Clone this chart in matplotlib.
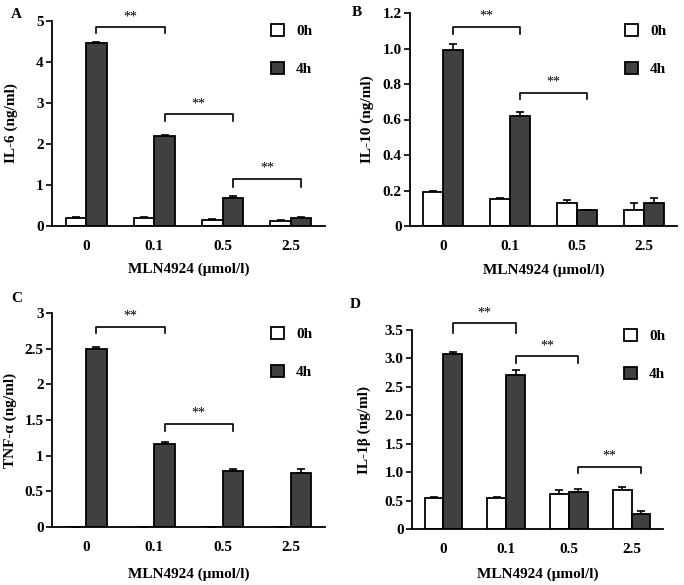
import matplotlib
matplotlib.use("Agg")
import matplotlib.pyplot as plt
import numpy as np

plt.rcParams['font.family'] = ['Liberation Serif', 'DejaVu Serif']
plt.rcParams['font.weight'] = 'bold'

doses = ['0', '0.1', '0.5', '2.5']
series_labels = ['0h', '4h']

il6_0h = [0.20, 0.20, 0.15, 0.12]
il6_0h_err = [0.03, 0.03, 0.02, 0.02]
il6_4h = [4.46, 2.19, 0.69, 0.19]
il6_4h_err = [0.03, 0.03, 0.04, 0.04]

il10_0h = [0.19, 0.15, 0.13, 0.09]
il10_0h_err = [0.005, 0.005, 0.015, 0.04]
il10_4h = [0.99, 0.62, 0.09, 0.13]
il10_4h_err = [0.035, 0.025, 0.0, 0.03]

tnf_0h = [0.0, 0.0, 0.0, 0.0]
tnf_0h_err = [0.0, 0.0, 0.0, 0.0]
tnf_4h = [2.50, 1.17, 0.79, 0.76]
tnf_4h_err = [0.02, 0.02, 0.02, 0.055]

il1b_0h = [0.55, 0.55, 0.61, 0.69]
il1b_0h_err = [0.01, 0.01, 0.08, 0.05]
il1b_4h = [3.08, 2.70, 0.65, 0.27]
il1b_4h_err = [0.03, 0.10, 0.05, 0.05]

# brackets: (start group, end group, bracket level, leg bottom)
brackets_A = [(0, 1, 4.85, 4.70), (1, 2, 2.72, 2.56), (2, 3, 1.15, 0.96)]
brackets_B = [(0, 1, 1.12, 1.083), (1, 2, 0.752, 0.715)]
brackets_C = [(0, 1, 2.81, 2.72), (1, 2, 1.44, 1.35)]
brackets_D = [(0, 1, 3.62, 3.44), (1, 2, 3.04, 2.92), (2, 3, 1.096, 0.98)]

W, H = 684, 585
fig = plt.figure(figsize=(W / 100, H / 100), dpi=100)

DARK = '#404040'
BW = 0.3


def make_panel(rect_px, v0, e0, v4, e4, ylim, yticks, yticklabels, ylabel,
               brackets, letter, letter_px, ylab_x, xlab_y, leg_px):
    l, t, r, b = rect_px
    ax = fig.add_axes([l / W, 1 - b / H, (r - l) / W, (b - t) / H])
    x = np.arange(len(doses))
    ax.bar(x - BW / 2, v0, BW, color='white', edgecolor='black', linewidth=1.3,
           label=series_labels[0], zorder=2)
    ax.bar(x + BW / 2, v4, BW, color=DARK, edgecolor='black', linewidth=1.3,
           label=series_labels[1], zorder=2)
    ax.errorbar(x - BW / 2, v0, yerr=[np.zeros(len(v0)), e0], fmt='none',
                ecolor='black', elinewidth=1.2, capsize=3, capthick=1.2, zorder=1)
    ax.errorbar(x + BW / 2, v4, yerr=[np.zeros(len(v4)), e4], fmt='none',
                ecolor='black', elinewidth=1.2, capsize=3, capthick=1.2, zorder=1)
    ax.set_xlim(-0.5, len(doses) - 0.5)
    ax.set_ylim(*ylim)
    ax.set_yticks(yticks)
    ax.set_yticklabels(yticklabels, fontsize=11, fontweight='bold')
    ax.set_xticks(x)
    ax.set_xticklabels(doses, fontsize=11, fontweight='bold')
    ax.tick_params(axis='x', length=0, pad=10)
    ax.tick_params(axis='y', length=4, width=1.2, pad=2, direction='out')
    for s in ['top', 'right']:
        ax.spines[s].set_visible(False)
    for s in ['left', 'bottom']:
        ax.spines[s].set_linewidth(1.3)
    ax.set_ylabel(ylabel, fontsize=11, fontweight='bold')
    ax.yaxis.set_label_coords(ylab_x, 0.5)
    ax.set_xlabel('MLN4924 (μmol/l)', fontsize=11, fontweight='bold')
    ax.xaxis.set_label_coords(0.5, xlab_y)
    for g0, g1, yb, yl in brackets:
        xs = [g0 + BW / 2, g0 + BW / 2, g1 + BW / 2, g1 + BW / 2]
        ys = [yl, yb, yb, yl]
        ax.plot(xs, ys, color='black', lw=1.2, clip_on=False, zorder=3)
        ax.text((xs[0] + xs[2]) / 2, yb + (ylim[1] - ylim[0]) * 0.02, '**',
                ha='center', va='bottom', fontsize=10, fontweight='normal',
                clip_on=False)
    lx, ly = leg_px
    ax.legend(loc='upper left',
              bbox_to_anchor=((lx - l) / (r - l), (b - ly) / (b - t)),
              frameon=False, handlelength=0.85, handleheight=0.85,
              labelspacing=1.55, borderpad=0, borderaxespad=0, handletextpad=0.8,
              prop={'weight': 'bold', 'size': 11})
    fig.text(letter_px[0] / W, 1 - letter_px[1] / H, letter, fontsize=11,
             fontweight='bold', ha='left', va='center')
    return ax


make_panel((52, 21, 325, 226), il6_0h, il6_0h_err, il6_4h, il6_4h_err,
           (0, 5), [0, 1, 2, 3, 4, 5], ['0', '1', '2', '3', '4', '5'],
           'IL-6 (ng/ml)', brackets_A, 'A', (11, 14), -0.125, -0.18, (271, 24))

make_panel((410, 13, 677, 226), il10_0h, il10_0h_err, il10_4h, il10_4h_err,
           (0, 1.2), [0, 0.2, 0.4, 0.6, 0.8, 1.0, 1.2],
           ['0', '0.2', '0.4', '0.6', '0.8', '1.0', '1.2'],
           'IL-10 (ng/ml)', brackets_B, 'B', (352, 13), -0.135, -0.174, (625, 24))

make_panel((52, 313, 325, 527), tnf_0h, tnf_0h_err, tnf_4h, tnf_4h_err,
           (0, 3), [0, 0.5, 1, 1.5, 2, 2.5, 3],
           ['0', '0.5', '1', '1.5', '2', '2.5', '3'],
           'TNF-α (ng/ml)', brackets_C, 'C', (11, 298), -0.128, -0.19, (271, 327))

make_panel((412, 330, 663, 529), il1b_0h, il1b_0h_err, il1b_4h, il1b_4h_err,
           (0, 3.5), [0, 0.5, 1.0, 1.5, 2.0, 2.5, 3.0, 3.5],
           ['0', '0.5', '1.0', '1.5', '2.0', '2.5', '3.0', '3.5'],
           'IL-1β (ng/ml)', brackets_D, 'D', (350, 305), -0.163, -0.196, (624, 329))

fig.savefig('out.png', dpi=100)
